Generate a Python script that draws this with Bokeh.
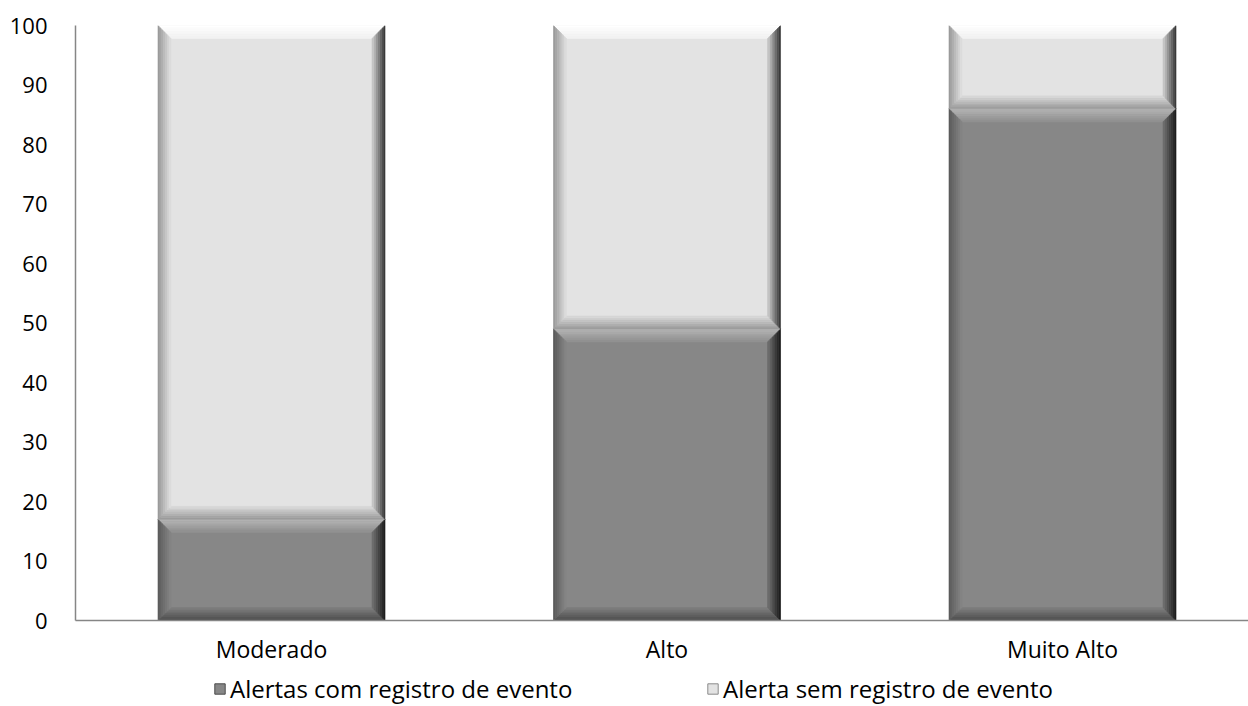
import numpy as np
from bokeh.plotting import figure
from bokeh.layouts import column
from bokeh.models import Range1d, FixedTicker, Legend, LegendItem, ColumnDataSource
from bokeh.embed import file_html
from bokeh.resources import INLINE

# ---- data ----
categories = ["Moderado", "Alto", "Muito Alto"]
com_registro = [17, 49, 86]
sem_registro = [83, 51, 14]
series_names = ["Alertas com registro de evento", "Alerta sem registro de evento"]
y_ticks = [0, 10, 20, 30, 40, 50, 60, 70, 80, 90, 100]
series_colors = ["#878787", "#e3e3e3"]

FONT = "Open Sans"
W = 1248
LEFT, TOP = 75, 25
FRAME_H = 595
FRAME_W = W - LEFT
PPU = 395.5                      # px per category unit
X0 = 0.0044
X1 = X0 + FRAME_W / PPU
dxpp = 1.0 / PPU
dypp = 100.0 / FRAME_H

p = figure(frame_width=FRAME_W, frame_height=FRAME_H, x_range=Range1d(X0, X1),
           y_range=Range1d(0, 100),
           output_backend="svg", toolbar_location=None,
           min_border_left=LEFT, min_border_top=TOP, min_border_right=0,
           min_border_bottom=0)
p.outline_line_color = None
p.xgrid.visible = False
p.ygrid.visible = False

xs = [i + 0.5 for i in range(len(categories))]
bw = 0.574
left = [x - bw / 2 for x in xs]
right = [x + bw / 2 for x in xs]
low1 = [0] * len(categories)
top1 = list(com_registro)
top2 = [a + b for a, b in zip(com_registro, sem_registro)]

src1 = ColumnDataSource(dict(left=left, right=right, bottom=low1, top=top1))
src2 = ColumnDataSource(dict(left=left, right=right, bottom=top1, top=top2))
p.quad(left="left", right="right", bottom="bottom", top="top", source=src1,
       fill_color=series_colors[0], line_color=None)
p.quad(left="left", right="right", bottom="bottom", top="top", source=src2,
       fill_color=series_colors[1], line_color=None)

# ---- bevel effect ----
def lerp(c1, c2, t):
    a = [int(c1[i:i + 2], 16) for i in (1, 3, 5)]
    b = [int(c2[i:i + 2], 16) for i in (1, 3, 5)]
    return "#%02x%02x%02x" % tuple(int(round(a[k] + (b[k] - a[k]) * t)) for k in range(3))

BEV = 13
N = 7
styles = {
    "dark": dict(top=("#b4b4b4", "#929292"), bottom=("#4e4e4e", "#7c7c7c"),
                 left=("#5c5c5c", "#848484"), right=("#1e1e1e", "#6c6c6c")),
    "light": dict(top=("#ffffff", "#f2f2f2"), bottom=("#9c9c9c", "#d6d6d6"),
                  left=("#9a9a9a", "#dcdcdc"), right=("#3a3a3a", "#c4c4c4")),
}
pxs, pys, pcs = [], [], []
segments = []
for i in range(len(categories)):
    segments.append((left[i], right[i], low1[i], top1[i], "dark"))
    segments.append((left[i], right[i], top1[i], top2[i], "light"))
for (x0, x1, y0, y1, kind) in segments:
    st = styles[kind]
    for k in range(N):
        a = BEV * k / N
        b = BEV * (k + 1) / N
        t = k / (N - 1)
        ax, bx_, ay, by_ = a * dxpp, b * dxpp, a * dypp, b * dypp
        polys = {
            "top": ([x0 + ax, x1 - ax, x1 - bx_, x0 + bx_], [y1 - ay, y1 - ay, y1 - by_, y1 - by_]),
            "bottom": ([x0 + ax, x1 - ax, x1 - bx_, x0 + bx_], [y0 + ay, y0 + ay, y0 + by_, y0 + by_]),
            "left": ([x0 + ax, x0 + ax, x0 + bx_, x0 + bx_], [y0 + ay, y1 - ay, y1 - by_, y0 + by_]),
            "right": ([x1 - ax, x1 - ax, x1 - bx_, x1 - bx_], [y0 + ay, y1 - ay, y1 - by_, y0 + by_]),
        }
        for side in ("top", "bottom", "left", "right"):
            c_out, c_in = st[side]
            pxs.append(polys[side][0])
            pys.append(polys[side][1])
            pcs.append(lerp(c_out, c_in, t))
p.patches(pxs, pys, fill_color=pcs, line_color=pcs, line_width=0.6)

# ---- axes ----
xa = p.xaxis[0]
xa.ticker = FixedTicker(ticks=xs)
xa.major_label_overrides = {x: c for x, c in zip(xs, categories)}
xa.axis_line_color = "#868686"
xa.axis_line_width = 1.5
xa.major_tick_line_color = None
xa.minor_tick_line_color = None
xa.major_label_text_font = FONT
xa.major_label_text_font_size = "23px"
xa.major_label_text_color = "black"
xa.major_label_standoff = 6

ya = p.yaxis[0]
ya.ticker = FixedTicker(ticks=y_ticks)
ya.axis_line_color = "#868686"
ya.axis_line_width = 1.5
ya.major_tick_line_color = None
ya.minor_tick_line_color = None
ya.major_label_text_font = FONT
ya.major_label_text_font_size = "22px"
ya.major_label_text_color = "black"
ya.major_label_standoff = 22

# ---- legend strip (its glyphs share the bar sources; range keeps them out of view) ----
H2 = 38
p2 = figure(frame_width=FRAME_W, height=H2, x_range=p.x_range, y_range=Range1d(-2, -1),
            output_backend="svg", toolbar_location=None,
            x_axis_location=None, y_axis_location=None, min_border=0,
            min_border_left=LEFT)
p2.outline_line_color = None
p2.xgrid.visible = False
p2.ygrid.visible = False
lr1 = p2.quad(left="left", right="right", bottom="bottom", top="top", source=src1,
              fill_color=series_colors[0], line_color="#4a4a4a")
lr2 = p2.quad(left="left", right="right", bottom="bottom", top="top", source=src2,
              fill_color=series_colors[1], line_color="#8a8a8a")
legend = Legend(items=[LegendItem(label=series_names[0], renderers=[lr1]),
                       LegendItem(label=series_names[1], renderers=[lr2])],
                orientation="horizontal", location=(138, 0),
                label_text_font=FONT, label_text_font_size="24px",
                label_text_color="black", glyph_width=13, glyph_height=13,
                label_standoff=4, label_width=460, spacing=16, padding=0, margin=0,
                border_line_color=None, background_fill_alpha=0)
p2.add_layout(legend, "center")

layout = column(p, p2, spacing=0)
open("out.html", "w").write(file_html(layout, INLINE))
